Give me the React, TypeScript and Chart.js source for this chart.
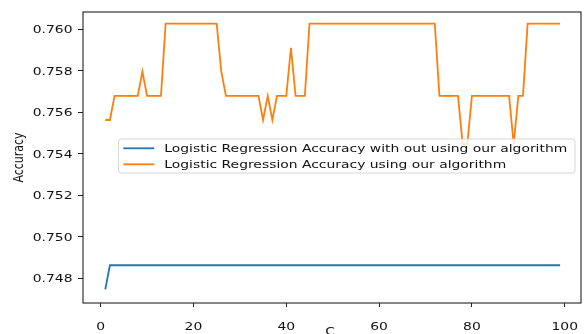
import React, { useEffect, useRef } from "react";
import { Chart, registerables } from "chart.js";

Chart.register(...registerables);

// ---- data ----
const C_VALUES = [
  1, 2, 3, 4, 5, 6, 7, 8, 9, 10,
  11, 12, 13, 14, 15, 16, 17, 18, 19, 20,
  21, 22, 23, 24, 25, 26, 27, 28, 29, 30,
  31, 32, 33, 34, 35, 36, 37, 38, 39, 40,
  41, 42, 43, 44, 45, 46, 47, 48, 49, 50,
  51, 52, 53, 54, 55, 56, 57, 58, 59, 60,
  61, 62, 63, 64, 65, 66, 67, 68, 69, 70,
  71, 72, 73, 74, 75, 76, 77, 78, 79, 80,
  81, 82, 83, 84, 85, 86, 87, 88, 89, 90,
  91, 92, 93, 94, 95, 96, 97, 98, 99,
];

const ACC_WITHOUT = [
  0.74747, 0.74863, 0.74863, 0.74863, 0.74863, 0.74863, 0.74863, 0.74863, 0.74863, 0.74863,
  0.74863, 0.74863, 0.74863, 0.74863, 0.74863, 0.74863, 0.74863, 0.74863, 0.74863, 0.74863,
  0.74863, 0.74863, 0.74863, 0.74863, 0.74863, 0.74863, 0.74863, 0.74863, 0.74863, 0.74863,
  0.74863, 0.74863, 0.74863, 0.74863, 0.74863, 0.74863, 0.74863, 0.74863, 0.74863, 0.74863,
  0.74863, 0.74863, 0.74863, 0.74863, 0.74863, 0.74863, 0.74863, 0.74863, 0.74863, 0.74863,
  0.74863, 0.74863, 0.74863, 0.74863, 0.74863, 0.74863, 0.74863, 0.74863, 0.74863, 0.74863,
  0.74863, 0.74863, 0.74863, 0.74863, 0.74863, 0.74863, 0.74863, 0.74863, 0.74863, 0.74863,
  0.74863, 0.74863, 0.74863, 0.74863, 0.74863, 0.74863, 0.74863, 0.74863, 0.74863, 0.74863,
  0.74863, 0.74863, 0.74863, 0.74863, 0.74863, 0.74863, 0.74863, 0.74863, 0.74863, 0.74863,
  0.74863, 0.74863, 0.74863, 0.74863, 0.74863, 0.74863, 0.74863, 0.74863, 0.74863,
];

const ACC_WITH = [
  0.75563, 0.75563, 0.75679, 0.75679, 0.75679, 0.75679, 0.75679, 0.75679, 0.75796, 0.75679,
  0.75679, 0.75679, 0.75679, 0.76027, 0.76027, 0.76027, 0.76027, 0.76027, 0.76027, 0.76027,
  0.76027, 0.76027, 0.76027, 0.76027, 0.76027, 0.75796, 0.75679, 0.75679, 0.75679, 0.75679,
  0.75679, 0.75679, 0.75679, 0.75679, 0.75563, 0.75679, 0.75563, 0.75679, 0.75679, 0.75679,
  0.75911, 0.75679, 0.75679, 0.75679, 0.76027, 0.76027, 0.76027, 0.76027, 0.76027, 0.76027,
  0.76027, 0.76027, 0.76027, 0.76027, 0.76027, 0.76027, 0.76027, 0.76027, 0.76027, 0.76027,
  0.76027, 0.76027, 0.76027, 0.76027, 0.76027, 0.76027, 0.76027, 0.76027, 0.76027, 0.76027,
  0.76027, 0.76027, 0.75679, 0.75679, 0.75679, 0.75679, 0.75679, 0.75447, 0.75447, 0.75679,
  0.75679, 0.75679, 0.75679, 0.75679, 0.75679, 0.75679, 0.75679, 0.75679, 0.75447, 0.75679,
  0.75679, 0.76027, 0.76027, 0.76027, 0.76027, 0.76027, 0.76027, 0.76027, 0.76027,
];

const SERIES_LABELS = [
  "Logistic Regression Accuracy with out using our algorithm",
  "Logistic Regression Accuracy using our algorithm",
];
const SERIES_COLORS = ["#1f77b4", "#ff7f0e"];

const X_TICKS = [0, 20, 40, 60, 80, 100];
const X_TICK_LABELS = ["0", "20", "40", "60", "80", "100"];
const Y_TICKS = [0.748, 0.75, 0.752, 0.754, 0.756, 0.758, 0.76];
const Y_TICK_LABELS = ["0.748", "0.750", "0.752", "0.754", "0.756", "0.758", "0.760"];
const X_TITLE = "C";
const Y_TITLE = "Accuracy";

// ---- styling helpers ----
const SY = 0.787;
const FONT_PX = 13.9;
const FONT = `${FONT_PX}px "DejaVu Sans"`;
const TEXT_COLOR = "#111";
const SPINE_COLOR = "#222";

function squashText(
  ctx: CanvasRenderingContext2D,
  text: string,
  x: number,
  y: number,
  align: CanvasTextAlign,
  rotate = false
) {
  ctx.save();
  ctx.translate(x, y);
  ctx.scale(1, SY);
  if (rotate) ctx.rotate(-Math.PI / 2);
  ctx.font = FONT;
  ctx.fillStyle = TEXT_COLOR;
  ctx.textAlign = align;
  ctx.textBaseline = "alphabetic";
  ctx.fillText(text, 0, 0);
  ctx.restore();
}

const decorPlugin = {
  id: "mplDecor",
  afterDraw(chart: any) {
    const ctx: CanvasRenderingContext2D = chart.ctx;
    const ca = chart.chartArea;
    const xs = chart.scales.x;
    const ys = chart.scales.y;

    // frame (spines)
    ctx.save();
    ctx.strokeStyle = SPINE_COLOR;
    ctx.lineWidth = 1.1;
    ctx.strokeRect(ca.left, ca.top, ca.right - ca.left, ca.bottom - ca.top);
    ctx.restore();

    // tick labels
    const digitHalf = 0.364 * FONT_PX * SY;
    Y_TICKS.forEach((v, i) => {
      const py = ys.getPixelForValue(v);
      squashText(ctx, Y_TICK_LABELS[i], ca.left - 10.5, py + digitHalf, "right");
    });
    X_TICKS.forEach((v, i) => {
      const px = xs.getPixelForValue(v);
      squashText(ctx, X_TICK_LABELS[i], px, ca.bottom + 26.6, "center");
    });

    // axis titles
    squashText(ctx, X_TITLE, (ca.left + ca.right) / 2 - 2, ca.bottom + 32, "center");
    squashText(ctx, Y_TITLE, 23.3, (ca.top + ca.bottom) / 2, "center", true);

    // legend
    const bx = ca.left + 35.5;
    const by = ca.top + 127;
    const bw = 456.5;
    const bh = 34;
    ctx.save();
    ctx.beginPath();
    if ((ctx as any).roundRect) (ctx as any).roundRect(bx, by, bw, bh, 3);
    else ctx.rect(bx, by, bw, bh);
    ctx.fillStyle = "rgba(255,255,255,0.8)";
    ctx.fill();
    ctx.strokeStyle = "rgba(204,204,204,0.8)";
    ctx.lineWidth = 1;
    ctx.stroke();
    ctx.restore();

    chart.data.datasets.forEach((ds: any, i: number) => {
      const ly = by + 9.3 + i * 16;
      ctx.save();
      ctx.strokeStyle = ds.borderColor;
      ctx.lineWidth = 1.8;
      ctx.beginPath();
      ctx.moveTo(bx + 4.8, ly);
      ctx.lineTo(bx + 35.8, ly);
      ctx.stroke();
      ctx.restore();
      squashText(ctx, ds.label, bx + 45.8, ly + 3.5, "left");
    });
  },
};

export default function App() {
  const canvasRef = useRef<HTMLCanvasElement | null>(null);

  useEffect(() => {
    const canvas = canvasRef.current;
    if (!canvas) return;
    const series = [ACC_WITHOUT, ACC_WITH];
    const chart = new Chart(canvas, {
      type: "line",
      data: {
        datasets: series.map((arr, si) => ({
          label: SERIES_LABELS[si],
          data: C_VALUES.map((c, i) => ({ x: c, y: arr[i] })),
          borderColor: SERIES_COLORS[si],
          backgroundColor: SERIES_COLORS[si],
          borderWidth: 1.8,
          pointRadius: 0,
          tension: 0,
          fill: false,
        })),
      },
      options: {
        responsive: false,
        animation: false,
        devicePixelRatio: 1,
        layout: { padding: { top: 12, right: 3, left: 0, bottom: 0 } },
        plugins: { legend: { display: false }, tooltip: { enabled: false } },
        scales: {
          x: {
            type: "linear",
            min: -3.8,
            max: 103.5,
            afterBuildTicks: (s: any) => {
              s.ticks = X_TICKS.map((v) => ({ value: v }));
            },
            afterFit: (s: any) => {
              s.height = 31;
            },
            ticks: { display: false },
            grid: {
              drawOnChartArea: false,
              drawTicks: true,
              tickLength: 4,
              color: SPINE_COLOR,
              lineWidth: 1,
            },
            border: { display: false },
          },
          y: {
            type: "linear",
            min: 0.74681,
            max: 0.760834,
            afterBuildTicks: (s: any) => {
              s.ticks = Y_TICKS.map((v) => ({ value: v }));
            },
            afterFit: (s: any) => {
              s.width = 83;
            },
            ticks: { display: false },
            grid: {
              drawOnChartArea: false,
              drawTicks: true,
              tickLength: 5,
              color: SPINE_COLOR,
              lineWidth: 1,
            },
            border: { display: false },
          },
        },
      } as any,
      plugins: [decorPlugin],
    });
    return () => chart.destroy();
  }, []);

  return (
    <div
      style={{
        position: "fixed",
        left: 0,
        top: 0,
        width: 584,
        height: 334,
        background: "#fff",
      }}
    >
      <canvas
        ref={canvasRef}
        width={584}
        height={334}
        style={{ display: "block", width: 584, height: 334 }}
      />
    </div>
  );
}
